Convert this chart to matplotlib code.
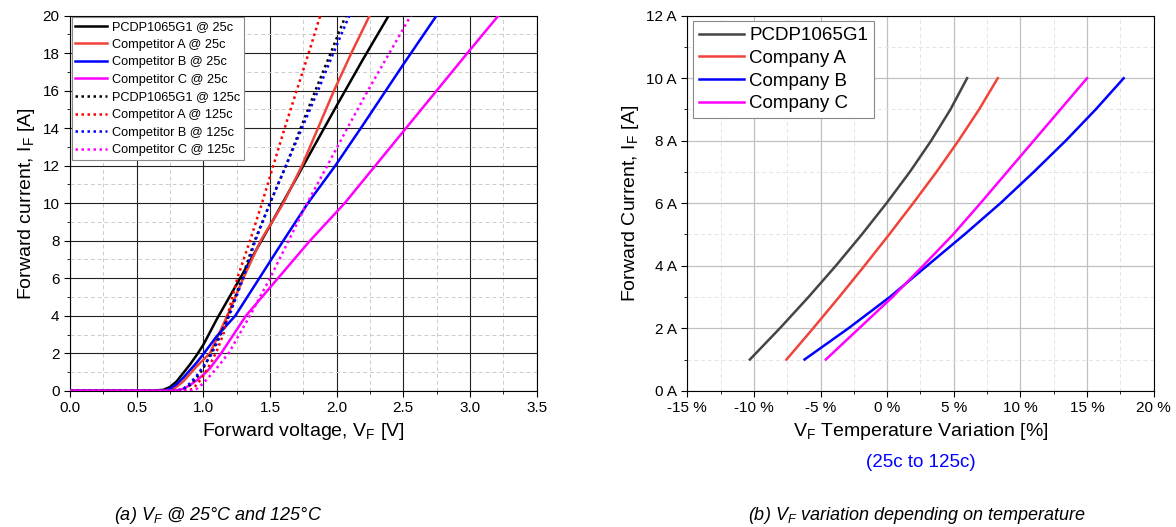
"""VF characteristics: IV curves at two temperatures and VF temperature variation."""

import matplotlib
matplotlib.use("Agg")
import matplotlib.pyplot as plt
from matplotlib.ticker import MultipleLocator, FuncFormatter

plt.rcParams["font.family"] = ["Liberation Sans", "DejaVu Sans"]
plt.rcParams["mathtext.fontset"] = "custom"
plt.rcParams["mathtext.rm"] = "Liberation Sans"
plt.rcParams["mathtext.it"] = "Liberation Sans:italic"

# ── (a) forward IV curves, (V, I) ─────────────────────────────────────────────
pcdp_25_v = [0.0, 0.6, 0.7, 0.75, 0.8, 0.85, 0.9, 0.95, 1.0, 1.1, 1.2, 1.3, 1.5, 1.75, 2.0, 2.2, 2.39]
pcdp_25_i = [0, 0, 0.05, 0.2, 0.5, 0.95, 1.4, 1.9, 2.45, 3.8, 5.05, 6.3, 8.8, 12, 15.2, 17.7, 20]
compa_25_v = [0.0, 0.7, 0.78, 0.85, 0.9, 0.95, 1.0, 1.05, 1.18, 1.3, 1.43, 1.6, 1.74, 1.86, 1.98, 2.11, 2.247]
compa_25_i = [0, 0, 0.1, 0.5, 0.9, 1.3, 1.65, 2.0, 4, 6, 8, 10, 12, 14, 16, 18, 20]
compb_25_v = [0.0, 0.7, 0.75, 0.8, 0.85, 0.9, 0.95, 1.0, 1.1, 1.24, 1.42, 1.6, 1.784, 1.99, 2.2, 2.5, 2.749]
compb_25_i = [0, 0, 0.1, 0.35, 0.7, 1.1, 1.5, 1.95, 2.9, 4, 6, 8, 10, 12, 14.2, 17.4, 20]
compc_25_v = [0.0, 0.78, 0.85, 0.9, 0.95, 1.0, 1.05, 1.134, 1.32, 1.56, 1.8, 2.06, 2.29, 2.52, 2.75, 2.98, 3.213]
compc_25_i = [0, 0, 0.1, 0.3, 0.55, 0.85, 1.2, 2, 4, 6, 8, 10, 12, 14, 16, 18, 20]

pcdp_125_v = [0.0, 0.8, 0.85, 0.9, 0.95, 1.0, 1.05, 1.1, 1.19, 1.29, 1.385, 1.5, 1.62, 1.73, 1.84, 1.955, 2.068]
pcdp_125_i = [0, 0, 0.05, 0.3, 0.7, 1.2, 1.9, 2.6, 4, 6, 8, 10, 12, 14, 16, 18, 20]
compa_125_v = [0.0, 0.88, 0.92, 0.96, 1.0, 1.05, 1.1, 1.15, 1.2, 1.255, 1.35, 1.44, 1.525, 1.61, 1.7, 1.79, 1.877]
compa_125_i = [0, 0, 0.1, 0.4, 0.8, 1.4, 2.1, 3.0, 4.5, 6, 8, 10, 12, 14, 16, 18, 20]
compb_125_v = [0.0, 0.8, 0.85, 0.9, 0.95, 1.0, 1.05, 1.1, 1.2, 1.3, 1.39, 1.5, 1.62, 1.74, 1.86, 1.975, 2.095]
compb_125_i = [0, 0, 0.1, 0.4, 0.8, 1.3, 1.8, 2.5, 4.1, 6, 8, 10, 12, 14, 16, 18, 20]
compc_125_v = [0.0, 0.9, 0.95, 1.0, 1.05, 1.1, 1.19, 1.35, 1.5, 1.64, 1.778, 1.93, 2.08, 2.234, 2.395, 2.556]
compc_125_i = [0, 0, 0.1, 0.4, 0.8, 1.2, 2, 4, 6, 8, 10, 12, 14, 16, 18, 20]

# ── (b) VF temperature variation [%] vs current [A] ──────────────────────────
var_current = [1, 2, 3, 4, 5, 6, 7, 8, 9, 10]
pcdp_var = [-10.3, -8.05, -5.9, -3.85, -1.9, -0.05, 1.7, 3.3, 4.75, 6.0]
compa_var = [-7.55, -5.55, -3.6, -1.7, 0.15, 1.95, 3.7, 5.35, 6.9, 8.3]
compb_var = [-6.2, -2.9, 0.2, 3.0, 5.8, 8.5, 11.0, 13.4, 15.65, 17.75]
compc_var = [-4.6, -2.1, 0.4, 2.7, 4.95, 7.0, 9.0, 11.0, 13.0, 15.0]

RED = "#f0433a"
BLUE = "#0000ff"
MAG = "#ff00ff"
DOT = (0, (1, 1.4))

fig = plt.figure(figsize=(11.76, 5.27), dpi=100)
ax1 = fig.add_axes([0.0595, 0.2585, 0.3968, 0.7117])
ax2 = fig.add_axes([0.5844, 0.2585, 0.3966, 0.7117])

# ── left panel ───────────────────────────────────────────────────────────────
solid = [(pcdp_25_v, pcdp_25_i, "black", "PCDP1065G1 @ 25c"),
         (compa_25_v, compa_25_i, RED, "Competitor A @ 25c"),
         (compb_25_v, compb_25_i, BLUE, "Competitor B @ 25c"),
         (compc_25_v, compc_25_i, MAG, "Competitor C @ 25c")]
dotted = [(pcdp_125_v, pcdp_125_i, "black", "PCDP1065G1 @ 125c"),
          (compa_125_v, compa_125_i, "#ff0000", "Competitor A @ 125c"),
          (compb_125_v, compb_125_i, BLUE, "Competitor B @ 125c"),
          (compc_125_v, compc_125_i, MAG, "Competitor C @ 125c")]
for v, i, c, lab in solid:
    ax1.plot(v, i, color=c, lw=1.8, label=lab, zorder=3)
for v, i, c, lab in dotted:
    ax1.plot(v, i, color=c, lw=1.8, ls=DOT, label=lab, zorder=3)

ax1.set_xlim(0, 3.5); ax1.set_ylim(0, 20)
ax1.xaxis.set_major_locator(MultipleLocator(0.5)); ax1.xaxis.set_minor_locator(MultipleLocator(0.25))
ax1.yaxis.set_major_locator(MultipleLocator(2)); ax1.yaxis.set_minor_locator(MultipleLocator(1))
ax1.xaxis.set_major_formatter(FuncFormatter(lambda x, p: f"{x:.1f}"))
ax1.grid(which="major", color="#222222", lw=0.8)
ax1.grid(which="minor", color="#cccccc", lw=0.7, ls=(0, (4, 3)))
ax1.set_axisbelow(True)
ax1.tick_params(which="both", direction="out", labelsize=11)
ax1.tick_params(which="major", length=4)
ax1.tick_params(which="minor", length=2.5)
ax1.set_xlabel(r"Forward voltage, V$_\mathregular{F}$ [V]", fontsize=14)
ax1.set_ylabel(r"Forward current, I$_\mathregular{F}$ [A]", fontsize=14)
leg = ax1.legend(loc="upper left", fontsize=9.2, handlelength=2.5, labelspacing=0.44,
                 borderaxespad=0.12, fancybox=False, framealpha=1, edgecolor="#888888",
                 handletextpad=0.35, borderpad=0.3)
leg.get_frame().set_linewidth(0.8)

# ── right panel ──────────────────────────────────────────────────────────────
ax2.plot(pcdp_var, var_current, color="#444444", lw=1.8, label="PCDP1065G1")
ax2.plot(compa_var, var_current, color=RED, lw=1.8, label="Company A")
ax2.plot(compb_var, var_current, color=BLUE, lw=1.8, label="Company B")
ax2.plot(compc_var, var_current, color=MAG, lw=1.8, label="Company C")

ax2.set_xlim(-15, 20); ax2.set_ylim(0, 12)
ax2.xaxis.set_major_locator(MultipleLocator(5)); ax2.xaxis.set_minor_locator(MultipleLocator(2.5))
ax2.yaxis.set_major_locator(MultipleLocator(2)); ax2.yaxis.set_minor_locator(MultipleLocator(1))
ax2.xaxis.set_major_formatter(FuncFormatter(lambda x, p: f"{int(round(x))} %"))
ax2.yaxis.set_major_formatter(FuncFormatter(lambda y, p: f"{int(round(y))} A"))
ax2.grid(which="major", color="#c0c0c0", lw=0.9)
ax2.grid(which="minor", color="#e4e4e4", lw=0.7, ls=(0, (4, 3)))
ax2.set_axisbelow(True)
ax2.tick_params(which="both", direction="out", labelsize=11)
ax2.tick_params(which="major", length=4)
ax2.tick_params(which="minor", length=2.5)
ax2.set_xlabel(r"V$_\mathregular{F}$ Temperature Variation [%]", fontsize=14)
ax2.set_ylabel(r"Forward Current, I$_\mathregular{F}$ [A]", fontsize=14)
ax2.text(0.5, -0.192, "(25c to 125c)", transform=ax2.transAxes, ha="center", va="center",
         color=BLUE, fontsize=13.5)
leg2 = ax2.legend(loc="upper left", fontsize=13.5, handlelength=2.4, labelspacing=0.3,
                  borderaxespad=0.3, fancybox=False, framealpha=1, edgecolor="#888888",
                  handletextpad=0.3, borderpad=0.3)
leg2.get_frame().set_linewidth(0.8)

# ── captions ─────────────────────────────────────────────────────────────────
fig.text(218 / 1176, 1 - 515 / 527, r"(a) V$_\mathit{F}$ @ 25°C and 125°C",
         ha="center", va="center", fontsize=13, style="italic")
fig.text(917 / 1176, 1 - 515 / 527, r"(b) V$_\mathit{F}$ variation depending on temperature",
         ha="center", va="center", fontsize=13, style="italic")

fig.savefig("out.png", dpi=100)
plt.close(fig)
